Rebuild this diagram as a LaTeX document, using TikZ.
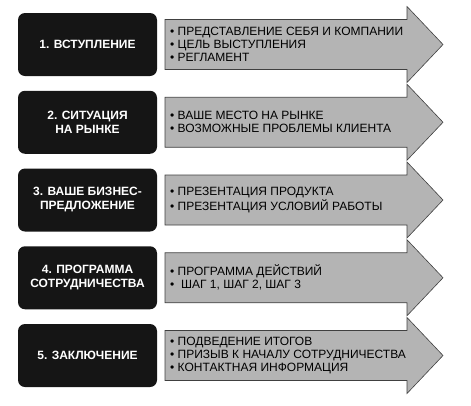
\documentclass[tikz,border=0pt]{standalone}
\usepackage{fontspec}
\setmainfont{Liberation Sans}
\usepackage{xcolor}
\usetikzlibrary{positioning}

\definecolor{stagebk}{HTML}{151515}
\definecolor{pointbg}{HTML}{B4B4B4}

\begin{document}
\begin{tikzpicture}[x=1pt, y=-1pt,
    stage/.style={rectangle, rounded corners=7pt, fill=stagebk, text=white, minimum width=139pt, minimum height=63pt, align=center, font=\bfseries\fontsize{12}{14}\selectfont},
    point/.style={fill=pointbg, draw=black!75, line width=0.6pt},
    items/.style={anchor=west, align=left, inner sep=0pt, font=\fontsize{12}{13}\selectfont}]
    \useasboundingbox (0,0) rectangle (471,405);

    % stages
    \node (s1) at (87.5,44.5) [stage] {1. ВСТУПЛЕНИЕ};
    \node (s2) at (87.5,122.25) [stage] {2. СИТУАЦИЯ\\НА РЫНКЕ};
    \node (s3) at (87.5,200) [stage] {3. ВАШЕ БИЗНЕС-\\ПРЕДЛОЖЕНИЕ};
    \node (s4) at (87.5,277.75) [stage] {4. ПРОГРАММА\\СОТРУДНИЧЕСТВА};
    \node (s5) at (87.5,355.5) [stage] {5. ЗАКЛЮЧЕНИЕ};

    % arrows
    \draw [point] (165,19.5) -- (407,19.5) -- (407,6.5) -- (443,44.5) -- (407,82.5) -- (407,69.5) -- (165,69.5) -- cycle;
    \draw [point] (165,97.25) -- (407,97.25) -- (407,84.25) -- (443,122.25) -- (407,160.25) -- (407,147.25) -- (165,147.25) -- cycle;
    \draw [point] (165,175) -- (407,175) -- (407,162) -- (443,200) -- (407,238) -- (407,225) -- (165,225) -- cycle;
    \draw [point] (165,252.75) -- (407,252.75) -- (407,239.75) -- (443,277.75) -- (407,315.75) -- (407,302.75) -- (165,302.75) -- cycle;
    \draw [point] (165,330.5) -- (407,330.5) -- (407,317.5) -- (443,355.5) -- (407,393.5) -- (407,380.5) -- (165,380.5) -- cycle;

    % items
    \node (i1) at (170,44.5) [items] {• ПРЕДСТАВЛЕНИЕ СЕБЯ И КОМПАНИИ\\• ЦЕЛЬ ВЫСТУПЛЕНИЯ\\• РЕГЛАМЕНТ};
    \node (i2) at (170,122.25) [items] {• ВАШЕ МЕСТО НА РЫНКЕ\\• ВОЗМОЖНЫЕ ПРОБЛЕМЫ КЛИЕНТА};
    \node (i3) at (170,200) [items] {• ПРЕЗЕНТАЦИЯ ПРОДУКТА\\• ПРЕЗЕНТАЦИЯ УСЛОВИЙ РАБОТЫ};
    \node (i4) at (170,277.75) [items] {• ПРОГРАММА ДЕЙСТВИЙ\\•~~ШАГ 1, ШАГ 2, ШАГ 3};
    \node (i5) at (170,355.5) [items] {• ПОДВЕДЕНИЕ ИТОГОВ\\• ПРИЗЫВ К НАЧАЛУ СОТРУДНИЧЕСТВА\\• КОНТАКТНАЯ ИНФОРМАЦИЯ};
\end{tikzpicture}
\end{document}
